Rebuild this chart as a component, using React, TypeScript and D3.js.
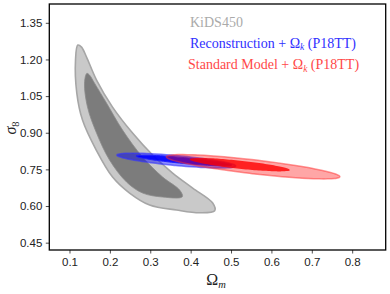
import React, { useEffect, useRef } from "react";
import * as d3 from "d3";

// axis ticks
const omegaTicks = [0.1, 0.2, 0.3, 0.4, 0.5, 0.6, 0.7, 0.8];
const sigmaTicks = [0.45, 0.6, 0.75, 0.9, 1.05, 1.2, 1.35];

// KiDS450 contours, boundary points (Omega_m, sigma_8)
const kidsOuterOm = [0.1206, 0.1298, 0.1422, 0.167, 0.2066, 0.2562, 0.3058, 0.3554, 0.405, 0.4546, 0.4595, 0.4223, 0.3653, 0.2984, 0.2488, 0.2066, 0.1662, 0.1322, 0.1181, 0.1149];
const kidsOuterS8 = [1.259, 1.2506, 1.2097, 1.1156, 1.005, 0.8987, 0.8087, 0.735, 0.6737, 0.6123, 0.5808, 0.5726, 0.5836, 0.6041, 0.6532, 0.7187, 0.8292, 0.9519, 1.0624, 1.1974];
const kidsInnerOm = [0.1429, 0.1496, 0.162, 0.1917, 0.2314, 0.281, 0.3306, 0.3727, 0.3794, 0.3306, 0.281, 0.2413, 0.1992, 0.167, 0.1446, 0.1372];
const kidsInnerS8 = [1.143, 1.136, 1.103, 1.0214, 0.911, 0.8005, 0.7187, 0.6655, 0.638, 0.6368, 0.6532, 0.6982, 0.7882, 0.8987, 1.005, 1.1033];

// thin ellipses: [Omega_m tip left, sigma_8 tip left, Omega_m tip right, sigma_8 tip right, half width in sigma_8]
const reconOuter = [0.2173, 0.8087, 0.5116, 0.7637, 0.0205];
const reconInner = [0.2653, 0.8046, 0.5017, 0.7678, 0.012];
const standardOuter = [0.3398, 0.8017, 0.7695, 0.7199, 0.0286];
const standardInner = [0.3976, 0.7911, 0.6455, 0.7473, 0.0166];

const W = 390;
const H = 294;

const App = () => {
  const gRef = useRef<SVGGElement>(null);

  useEffect(() => {
    const root = d3.select(gRef.current);
    root.selectAll("*").remove();

    const x = d3.scaleLinear().domain([0.05, 0.883]).range([49.3, 385.7]);
    const y = d3.scaleLinear().domain([0.42, 1.427]).range([250, 4]);

    const closed = d3.line().curve(d3.curveCatmullRomClosed);
    const blob = (om: number[], s8: number[]) =>
      closed(om.map((v, i) => [x(v), y(s8[i])] as [number, number]));

    const ellipse = (p: number[]) => {
      const ax = x(p[0]), ay = y(p[1]), bx = x(p[2]), by = y(p[3]);
      const cx = (ax + bx) / 2, cy = (ay + by) / 2;
      const len = Math.hypot(bx - ax, by - ay) / 2;
      const ux = (bx - ax) / (2 * len), uy = (by - ay) / (2 * len);
      const b = y(0) - y(p[4]);
      const pts: [number, number][] = d3.range(72).map((k) => {
        const t = (k / 72) * Math.PI * 2;
        return [cx + len * Math.cos(t) * ux - b * Math.sin(t) * uy, cy + len * Math.cos(t) * uy + b * Math.sin(t) * ux];
      });
      return closed(pts);
    };

    const g = root.append("g");
    g.append("path").attr("d", blob(kidsOuterOm, kidsOuterS8))
      .attr("fill", "#c9c9c9").attr("stroke", "#a6a6a6").attr("stroke-width", 1.6);
    g.append("path").attr("d", blob(kidsInnerOm, kidsInnerS8))
      .attr("fill", "#7c7c7c").attr("stroke", "#8a8a8a").attr("stroke-width", 0.8);

    g.append("path").attr("d", ellipse(reconOuter))
      .attr("fill", "#0000ff").attr("fill-opacity", 0.45)
      .attr("stroke", "#3333ff").attr("stroke-opacity", 0.6).attr("stroke-width", 1.5);
    g.append("path").attr("d", ellipse(reconInner))
      .attr("fill", "#0000ff").attr("fill-opacity", 0.9)
      .attr("stroke", "#2020ff").attr("stroke-width", 1);

    g.append("path").attr("d", ellipse(standardOuter))
      .attr("fill", "#ff0000").attr("fill-opacity", 0.35)
      .attr("stroke", "#ff3030").attr("stroke-opacity", 0.5).attr("stroke-width", 1.5);
    g.append("path").attr("d", ellipse(standardInner))
      .attr("fill", "#ff0000").attr("fill-opacity", 0.8);

    const xAxis = d3.axisBottom(x).tickValues(omegaTicks).tickFormat(d3.format(".1f")).tickSize(3.5).tickPadding(4);
    const yAxis = d3.axisLeft(y).tickValues(sigmaTicks).tickFormat(d3.format(".2f")).tickSize(3.5).tickPadding(3.5);
    const ax1 = root.append("g").attr("transform", "translate(0,250)").call(xAxis);
    const ax2 = root.append("g").attr("transform", "translate(49.3,0)").call(yAxis);
    [ax1, ax2].forEach((a) => {
      a.select(".domain").remove();
      a.selectAll("text").attr("font-family", "'Liberation Sans', Arial, sans-serif").attr("font-size", 11.5).attr("fill", "#222");
      a.selectAll("line").attr("stroke", "#222").attr("stroke-width", 0.8);
    });

    root.append("rect").attr("x", 49.3).attr("y", 4).attr("width", 336.4).attr("height", 246)
      .attr("fill", "none").attr("stroke", "#000").attr("stroke-width", 1.3);
  }, []);

  const serif = "'Liberation Serif', 'Times New Roman', serif";
  return (
    <svg width={W} height={H} style={{ position: "absolute", left: 0, top: 0, background: "#fff" }}>
      <g ref={gRef} />
      <text x={216} y={285} textAnchor="middle" fontFamily={serif} fontSize={16} fill="#222">
        Ω<tspan fontStyle="italic" fontSize={10.5} dy={3}>m</tspan>
      </text>
      <text transform="translate(16,128) rotate(-90)" textAnchor="middle" fontFamily={serif} fontSize={16} fill="#222">
        <tspan fontStyle="italic">σ</tspan><tspan fontSize={10.5} dy={3}>8</tspan>
      </text>
      <g fontFamily={serif} fontSize={14} fontWeight="normal">
        <text x={190} y={27} fill="#aaaaaa">KiDS450</text>
        <text x={190} y={47.5} fill="#3030ff">
          Reconstruction + Ω<tspan fontStyle="italic" fontSize={9.5} dy={2.5}>k</tspan><tspan dy={-2.5}> (P18TT)</tspan>
        </text>
        <text x={188} y={69} fill="#ff4848">
          Standard Model + Ω<tspan fontStyle="italic" fontSize={9.5} dy={2.5}>k</tspan><tspan dy={-2.5}> (P18TT)</tspan>
        </text>
      </g>
    </svg>
  );
};

export default App;
